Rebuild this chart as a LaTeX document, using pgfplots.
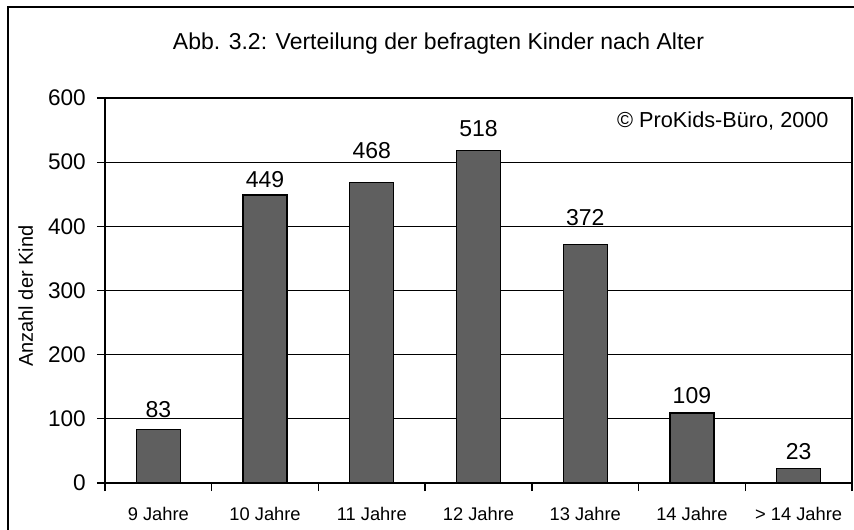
\documentclass[border=0pt]{standalone}
\usepackage{fontspec}
\setmainfont{Liberation Sans}
\usepackage{pgfplots}
\usepackage{pgfplotstable}
\pgfplotsset{compat=1.18}
\definecolor{barfill}{HTML}{5F5F5F}
\pgfplotstableread{
x y dy
0 83 12
1 449 7
2 468 24
3 518 14
4 372 19
5 109 10
6 23 9
}\datatable
\begin{document}
\begin{tikzpicture}
\path[use as bounding box] (-105pt,-47pt) rectangle (749pt,483pt);
\begin{axis}[
  scale only axis,
  width=747pt, height=385pt,
  xmin=-0.5, xmax=6.5,
  ymin=0, ymax=600,
  ytick={0,100,...,600},
  yticklabels={0,100,200,300,400,500,600},
  xtick={0,...,6},
  xticklabels={9 Jahre,10 Jahre,11 Jahre,12 Jahre,13 Jahre,14 Jahre,> 14 Jahre},
  minor xtick={-0.5,0.5,...,6.5},
  xtick pos=bottom, ytick pos=left,
  tick align=outside,
  major tick length=8pt,
  minor tick length=8pt,
  x tick style={draw=none},
  minor x tick style={draw=black, line width=1.3pt},
  y tick style={draw=black, line width=1.3pt},
  ymajorgrids,
  grid style={black, line width=1.2pt},
  axis line style={line width=1.5pt},
  every y tick label/.style={font=\fontsize{22.6}{26}\selectfont, anchor=east, inner sep=0pt, xshift=-11pt},
  every x tick label/.style={font=\fontsize{18.3}{22}\selectfont, anchor=base, yshift=-29pt},
  clip=false,
  /pgf/number format/assume math mode=true,
]
\addplot[ybar, bar width=44pt, fill=barfill, draw=black, line width=1.4pt,
  visualization depends on={\thisrow{dy} \as \dy},
  nodes near coords,
  nodes near coords style={font=\fontsize{23}{27}\selectfont, anchor=base, yshift=\dy pt, inner sep=0pt},
] table[x=x, y=y] {\datatable};
\end{axis}
% frame (left and top edges only, rest cut off)
\draw[line width=1.8pt] (-97pt,-60pt) -- (-97pt,476pt) -- (760pt,476pt);
% title
\node[anchor=base, font=\fontsize{23}{27}\selectfont, inner sep=0pt] at (333.5pt,433pt) {Abb. 3.2: Verteilung der befragten Kinder nach Alter};
% copyright
\node[anchor=base west, font=\fontsize{21.7}{26}\selectfont, inner sep=0pt] at (512pt,355pt) {\textcopyright{} ProKids-Büro, 2000};
% y label
\node[rotate=90, anchor=base west, font=\fontsize{20}{24}\selectfont, inner sep=0pt] at (-72pt,116pt) {Anzahl der Kind};
\end{tikzpicture}
\end{document}
